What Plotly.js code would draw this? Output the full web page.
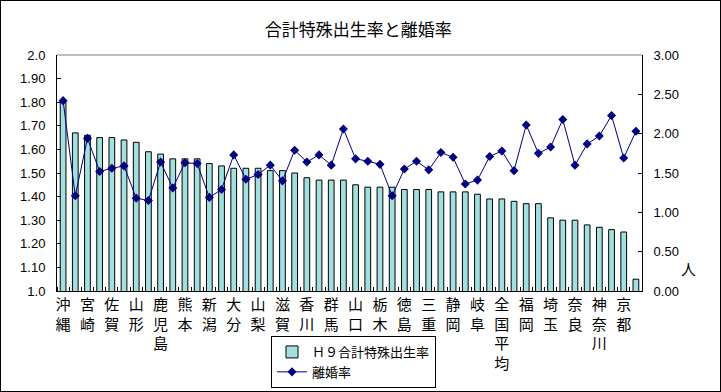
<!DOCTYPE html>
<html>
<head>
<meta charset="utf-8">
<script src="https://cdn.plot.ly/plotly-3.0.1.min.js"></script>
<style>
html,body{margin:0;padding:0;background:#fff;}
#wrap{position:relative;width:721px;height:392px;}
#chart{width:721px;height:392px;}
#frame{position:absolute;left:0;top:0;width:721px;height:392px;box-sizing:border-box;border:1px solid #000;pointer-events:none;}
</style>
</head>
<body>
<div id="wrap"><div id="chart"></div><div id="frame"></div></div>
<script>
// Categories (sorted by fertility rate); only every other one is labelled on the axis
const categories = ["沖縄","福島","宮崎","島根","佐賀","長崎","山形","鳥取","鹿児島","福井",
  "熊本","岩手","新潟","青森","大分","秋田","山梨","長野","滋賀","愛媛",
  "香川","富山","群馬","茨城","山口","石川","栃木","岡山","徳島","和歌山",
  "三重","広島","静岡","高知","岐阜","兵庫","全国平均","愛知","福岡","宮城",
  "埼玉","千葉","奈良","大阪","神奈川","北海道","京都","東京"];
// H9 total fertility rate (left axis)
const fertility = [1.80,1.67,1.66,1.65,1.65,1.64,1.63,1.59,1.58,1.56,
  1.56,1.56,1.54,1.53,1.52,1.52,1.52,1.51,1.51,1.50,
  1.48,1.47,1.47,1.47,1.45,1.44,1.44,1.44,1.43,1.43,
  1.43,1.42,1.42,1.42,1.41,1.39,1.39,1.38,1.37,1.37,
  1.31,1.30,1.30,1.28,1.27,1.26,1.25,1.05];
// Divorce rate (right axis)
const divorce = [2.42,1.21,1.94,1.52,1.56,1.59,1.18,1.15,1.64,1.31,
  1.63,1.62,1.19,1.29,1.73,1.42,1.48,1.60,1.40,1.79,
  1.64,1.73,1.60,2.06,1.68,1.65,1.61,1.21,1.55,1.65,
  1.54,1.76,1.70,1.36,1.41,1.71,1.78,1.53,2.11,1.75,
  1.83,2.18,1.60,1.87,1.97,2.23,1.69,2.03];
const seriesNames = ["Ｈ９合計特殊出生率","離婚率"];
const titleText = "合計特殊出生率と離婚率";
const unitText = "人";
const leftTickVals = [1.0,1.1,1.2,1.3,1.4,1.5,1.6,1.7,1.8,1.9,2.0];
const leftTickText = ["1.0","1.10","1.20","1.30","1.40","1.50","1.60","1.70","1.80","1.90","2.0"];

const idx = categories.map((c,i)=>i);
const labelIdx = idx.filter(i=>i%2===0);
const labelText = labelIdx.map(i=>categories[i].split("").join("<br>"));
const boundaries = [-0.5].concat(idx.map(i=>i+0.5));

const jp = '"Noto Sans CJK JP", sans-serif';
const num = '"Liberation Sans", Arial, sans-serif';

const traces = [
  {type:'bar', x:idx, y:fertility, name:seriesNames[0], yaxis:'y',
   marker:{color:'#a2e0e0', line:{color:'#000', width:1}}, hoverinfo:'skip'},
  {type:'scatter', mode:'lines+markers', x:idx, y:divorce, name:seriesNames[1], yaxis:'y2',
   line:{color:'#000080', width:1}, marker:{symbol:'diamond', size:7, color:'#000080'}, hoverinfo:'skip'}
];

const layout = {
  width:721, height:392,
  margin:{l:57, r:79, t:55, b:101, autoexpand:false},
  paper_bgcolor:'#fff', plot_bgcolor:'#fff',
  showlegend:true,
  title:{text:titleText, font:{family:jp, size:17, color:'#000'}, x:0.497, xanchor:'center', y:1-30/392, yanchor:'middle', yref:'container'},
  bargap:0.53,
  xaxis:{range:[-0.5,47.5], tickmode:'array', tickvals:labelIdx, ticktext:labelText,
    ticks:'', showline:true, linecolor:'#000', linewidth:1, zeroline:false, showgrid:false,
    tickfont:{family:jp, size:15, color:'#000'}, tickangle:0, automargin:false,
    minor:{tickvals:boundaries, ticks:'inside', ticklen:4, tickcolor:'#000', showgrid:false}},
  yaxis:{range:[1.0,2.0], tickmode:'array', tickvals:leftTickVals, ticktext:leftTickText,
    ticks:'inside', ticklen:4, tickcolor:'#000', showline:true, linecolor:'#000', linewidth:1,
    showgrid:false, zeroline:false, tickfont:{family:num, size:13, color:'#000'}, ticklabelstandoff:8, automargin:false},
  yaxis2:{range:[0,3], overlaying:'y', side:'right', tickmode:'linear', tick0:0, dtick:0.5, tickformat:'.2f',
    ticks:'inside', ticklen:4, tickcolor:'#000', showline:true, linecolor:'#000', linewidth:1,
    showgrid:false, zeroline:false, tickfont:{family:num, size:13, color:'#000'}, ticklabelstandoff:8, automargin:false},
  legend:{x:(271-57)/585, xanchor:'left', y:(291-388)/236, yanchor:'bottom', yref:'paper',
    bgcolor:'#fff', bordercolor:'#000', borderwidth:1, font:{family:jp, size:13, color:'#000'},
    tracegroupgap:0, itemwidth:30},
  shapes:[{type:'line', xref:'paper', yref:'paper', x0:0, x1:1, y0:1, y1:1, line:{color:'#808080', width:1}}],
  annotations:[{text:unitText, xref:'paper', yref:'paper', x:(688-57)/585, y:(291-268)/236, showarrow:false,
    xanchor:'center', yanchor:'middle', font:{family:jp, size:15, color:'#000'}}]
};

Plotly.newPlot('chart', traces, layout, {displayModeBar:false, staticPlot:true});
</script>
</body>
</html>
